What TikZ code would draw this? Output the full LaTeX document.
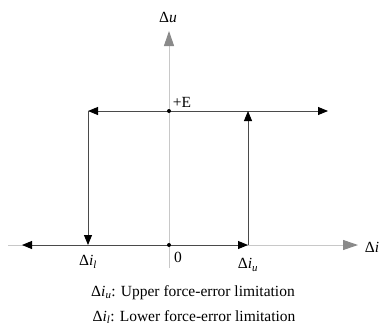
\documentclass[tikz,border=0pt]{standalone}
\usepackage{fontspec}
\setmainfont{Liberation Serif}
\usetikzlibrary{arrows.meta}
\definecolor{axisc}{HTML}{C8C8C8}
\definecolor{axtip}{HTML}{8A8A8A}
\definecolor{linec}{HTML}{4A4A4A}
\tikzset{
  axisline/.style={draw=axisc, line width=1pt, -{Triangle[length=15pt,width=10pt,color=axtip]}},
  pathline/.style={draw=linec, line width=0.9pt},
  lbl/.style={inner sep=0pt, font=\fontsize{15.5}{18}\selectfont},
  dotc/.style={circle, fill=black, inner sep=0pt, minimum size=4pt}
}
\newcommand{\dif}[1]{Δ\textit{#1}}
\begin{document}
\begin{tikzpicture}[x=1pt,y=-1pt]
\useasboundingbox (0,0) rectangle (380,327);
% coordinates
\coordinate (hs) at (8,245);
\coordinate (he) at (358,245);
\coordinate (vs) at (169,268);
\coordinate (ve) at (169,31);
\coordinate (O) at (169,245);
\coordinate (E) at (169,111);
\coordinate (L) at (88,111);
\coordinate (R) at (328,111);
\coordinate (Lb) at (88,245);
\coordinate (Ub) at (248,245);
\coordinate (Ut) at (248,111);
\coordinate (B) at (22,245);
% axes
\draw[axisline] (hs) -- (he);
\draw[axisline] (vs) -- (ve);
\node[lbl] (di) at (372,247) {\dif{i}};
\node[lbl] (du) at (168,17) {\dif{u}};
% hysteresis path
\draw[pathline, {Triangle[length=10pt,width=8pt,color=black]}-{Triangle[length=10pt,width=8pt,color=black]}] (L) -- (R);
\draw[pathline, -{Triangle[length=10pt,width=8pt,color=black]}] (L) -- (Lb);
\draw[pathline, -{Triangle[length=10pt,width=8pt,color=black]}] (Ub) -- (Ut);
\draw[pathline, {Triangle[length=10pt,width=8pt,color=black]}-{Triangle[length=10pt,width=8pt,color=black]}] (B) -- (Ub);
% dots
\node[dotc] (dE) at (E) {};
\node[dotc] (dO) at (O) {};
% labels
\node[lbl] (plusE) at (182,102) {+E};
\node[lbl] (zero) at (178,257) {0};
\node[lbl] (dil) at (88,262) {\dif{i}\textsubscript{\textit{l}}};
\node[lbl] (diu) at (248,265) {\dif{i}\textsubscript{\textit{u}}};
\node[lbl] (cap1) at (193,293) {\dif{i}\textsubscript{\textit{u}}: Upper force-error limitation};
\node[lbl] (cap2) at (194,317) {\dif{i}\textsubscript{\textit{l}}: Lower force-error limitation};
\end{tikzpicture}
\end{document}
